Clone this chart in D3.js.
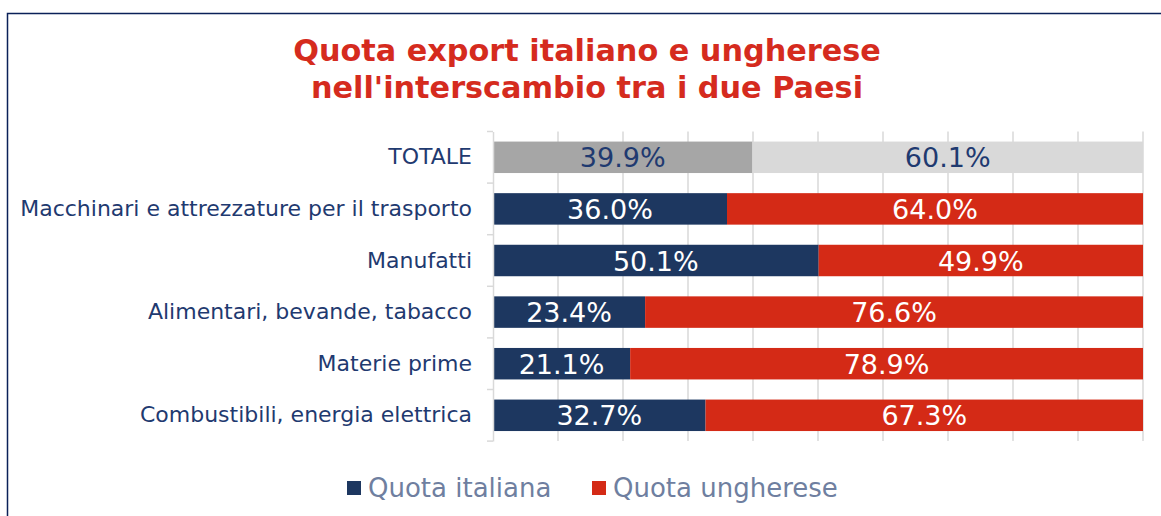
<!DOCTYPE html>
<html>
<head>
<meta charset="utf-8">
<script src="https://cdn.jsdelivr.net/npm/d3@7"></script>
<style>
  body { margin: 0; background: #fff; }
  svg { display: block; font-family: "DejaVu Sans", Verdana, sans-serif; }
</style>
</head>
<body>
<script>
var categories = ["TOTALE", "Macchinari e attrezzature per il trasporto", "Manufatti",
  "Alimentari, bevande, tabacco", "Materie prime", "Combustibili, energia elettrica"];
var quotaItaliana = [39.9, 36.0, 50.1, 23.4, 21.1, 32.7];
var quotaUngherese = [60.1, 64.0, 49.9, 76.6, 78.9, 67.3];
var seriesNames = ["Quota italiana", "Quota ungherese"];
var titleLines = ["Quota export italiano e ungherese", "nell'interscambio tra i due Paesi"];

var main = function() {
  var width = 1161, height = 516;
  var margin = {top: 131.5, left: 493, right: 18, bottom: 75};
  var navy = "#1d3760", red = "#d42a16", labelColor = "#1f3a70";

  var svg = d3.select("body").append("svg")
    .attr("width", width)
    .attr("height", height);

  // outer frame
  svg.append("rect")
    .attr("x", 7.5).attr("y", 13.5)
    .attr("width", width).attr("height", height)
    .attr("fill", "none")
    .attr("stroke", "#0b2158")
    .attr("stroke-width", 1.5);

  svg.append("g").selectAll("text")
    .data(titleLines)
    .enter().append("text")
    .attr("x", 587)
    .attr("y", function(d, i) { return 61 + i * 37; })
    .attr("text-anchor", "middle")
    .attr("fill", "#d52b1e")
    .attr("font-weight", "bold")
    .attr("font-size", "30.3px")
    .text(function(d) { return d; });

  var x = d3.scaleLinear().domain([0, 100]).range([margin.left, 1143]);
  var y = d3.scaleBand().domain(categories)
    .range([margin.top, margin.top + 6 * 51.6])
    .paddingInner(0.39).paddingOuter(0.195);

  // gridlines
  svg.append("g").selectAll("line")
    .data(d3.range(10, 101, 10))
    .enter().append("line")
    .attr("x1", function(d) { return x(d); })
    .attr("x2", function(d) { return x(d); })
    .attr("y1", y.range()[0])
    .attr("y2", y.range()[1])
    .attr("stroke", "#d9d9d9")
    .attr("stroke-width", 1.5);

  var rows = categories.map(function(c, i) {
    return {cat: c, it: quotaItaliana[i], hu: quotaUngherese[i], total: i === 0};
  });

  var g = svg.append("g").selectAll("g")
    .data(rows)
    .enter().append("g");

  g.append("rect")
    .attr("x", x(0))
    .attr("y", function(d) { return y(d.cat); })
    .attr("width", function(d) { return x(d.it) - x(0); })
    .attr("height", y.bandwidth())
    .attr("fill", function(d) { return d.total ? "#a6a6a6" : navy; });

  g.append("rect")
    .attr("x", function(d) { return x(d.it); })
    .attr("y", function(d) { return y(d.cat); })
    .attr("width", function(d) { return x(d.it + d.hu) - x(d.it); })
    .attr("height", y.bandwidth())
    .attr("fill", function(d) { return d.total ? "#d9d9d9" : red; });

  g.append("text")
    .attr("x", function(d) { return (x(0) + x(d.it)) / 2; })
    .attr("y", function(d) { return y(d.cat) + y.bandwidth() / 2 + 10; })
    .attr("text-anchor", "middle")
    .attr("font-size", "27px")
    .attr("fill", function(d) { return d.total ? labelColor : "#fff"; })
    .text(function(d) { return d.it.toFixed(1) + "%"; });

  g.append("text")
    .attr("x", function(d) { return (x(d.it) + x(d.it + d.hu)) / 2; })
    .attr("y", function(d) { return y(d.cat) + y.bandwidth() / 2 + 10; })
    .attr("text-anchor", "middle")
    .attr("font-size", "27px")
    .attr("fill", function(d) { return d.total ? labelColor : "#fff"; })
    .text(function(d) { return d.hu.toFixed(1) + "%"; });

  // category axis
  var yAxis = svg.append("g")
    .attr("transform", "translate(" + margin.left + ",0)")
    .call(d3.axisLeft(y).tickSize(0).tickPadding(21));
  yAxis.select(".domain").attr("stroke", "#d9d9d9").attr("stroke-width", 1.5);
  yAxis.selectAll("text")
    .attr("font-size", "22px")
    .attr("fill", labelColor)
    .attr("font-family", "DejaVu Sans, Verdana, sans-serif");

  // tick marks between categories
  svg.append("g").selectAll("line")
    .data(d3.range(0, 7))
    .enter().append("line")
    .attr("x1", margin.left - 6)
    .attr("x2", margin.left)
    .attr("y1", function(d) { return y.range()[0] + d * y.step(); })
    .attr("y2", function(d) { return y.range()[0] + d * y.step(); })
    .attr("stroke", "#d9d9d9")
    .attr("stroke-width", 1.5);

  // legend
  var legendX = [347, 592];
  var lg = svg.append("g").selectAll("g")
    .data(seriesNames)
    .enter().append("g")
    .attr("transform", function(d, i) { return "translate(" + legendX[i] + ",481)"; });
  lg.append("rect")
    .attr("width", 14).attr("height", 14)
    .attr("fill", function(d, i) { return i === 0 ? navy : red; });
  lg.append("text")
    .attr("x", 21).attr("y", 16)
    .attr("font-size", "26px")
    .attr("fill", "#6f7fa0")
    .text(function(d) { return d; });
}

main();
</script>
</body>
</html>
